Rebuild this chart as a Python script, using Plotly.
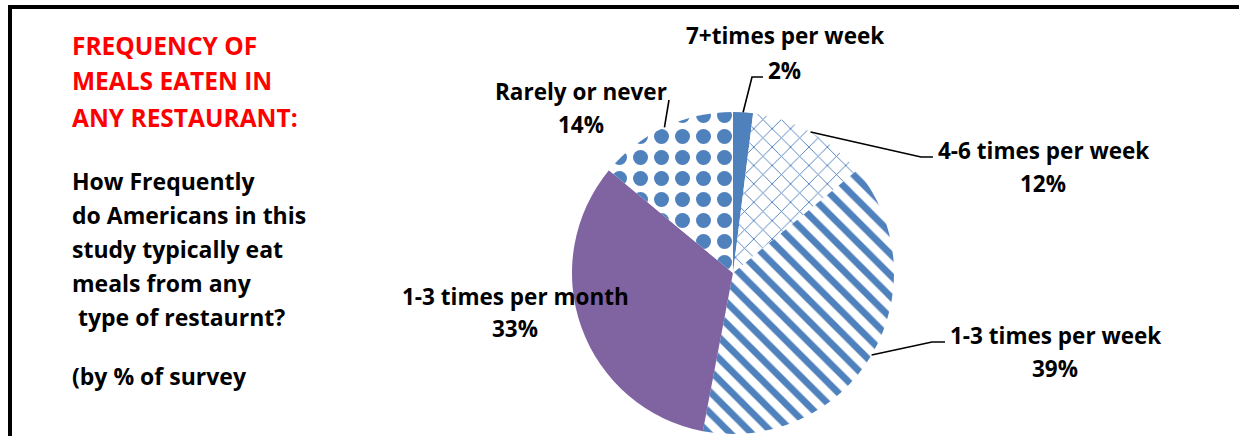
import math
import plotly.graph_objects as go

# ---- data ----
categories = ["7+times per week", "4-6 times per week", "1-3 times per week",
              "1-3 times per month", "Rarely or never"]
values = [2, 12, 39, 33, 14]

title_lines = ["FREQUENCY OF", "MEALS EATEN IN", "ANY RESTAURANT:"]
desc_lines = ["How Frequently", "do Americans in this", "study typically eat",
              "meals from any", " type of restaurnt?"]
note_line = "(by % of survey"

# ---- layout / style ----
W, H = 1239, 436
BLUE = "#4f81bd"
PURPLE = "#8064a2"
CX, CY, R = 733, 273, 161  # pie centre / radius in px
FONT = "Open Sans"
FS_LABEL = 22.5
FS_TITLE = 24.5
FS_DESC = 23

def px(x):
    return x / W

def py(y):
    return 1 - y / H

fill_colors = [BLUE, "white", "white", PURPLE, "white"]
pat_shape = ["", "x", "\\", "", "."]
pat_fg = [BLUE, BLUE, BLUE, PURPLE, BLUE]
pat_bg = [BLUE, "white", "white", PURPLE, "white"]
pat_size = [10, 13, 15, 10, 21]
pat_sol = [0.3, 0.14, 0.45, 0.3, 0.4]

# label placement: (label centre x, label centre y, pct centre y, elbow, end)
label_pos = [
    (785, 36, 70, (752, 77), (763, 77)),
    (1043, 150, 183, (921, 157), (933, 157)),
    (1055, 335, 368, (932, 342), (945, 342)),
    (515, 296, 328, None, None),
    (581, 91, 124, (669, 100), (669, 100)),
]

fig = go.Figure(go.Pie(
    labels=categories, values=values, sort=False, direction="clockwise",
    rotation=0, textinfo="none", hoverinfo="label+percent", showlegend=False,
    marker=dict(colors=fill_colors, line=dict(width=0),
                pattern=dict(shape=pat_shape, fgcolor=pat_fg, bgcolor=pat_bg,
                             size=pat_size, solidity=pat_sol)),
    domain=dict(x=[px(CX - R), px(CX + R)], y=[py(CY + R), py(CY - R)]),
))

annotations = []
shapes = []
total = sum(values)
cum = 0
for cat, v, pos in zip(categories, values, label_pos):
    mid = 2 * math.pi * (cum + v / 2) / total
    cum += v
    lx, ly, pyy, elbow, end = pos
    annotations.append(dict(x=px(lx), y=py(ly), xref="paper", yref="paper",
                            text=cat, showarrow=False, xanchor="center", yanchor="middle",
                            font=dict(family=FONT, size=FS_LABEL, color="black", weight="bold")))
    annotations.append(dict(x=px(lx), y=py(pyy), xref="paper", yref="paper",
                            text=f"{round(100 * v / total)}%", showarrow=False,
                            xanchor="center", yanchor="middle",
                            font=dict(family=FONT, size=FS_LABEL, color="black", weight="bold")))
    if elbow is not None:
        ax = CX + R * math.sin(mid)
        ay = CY - R * math.cos(mid)
        path = (f"M {px(ax)},{py(ay)} L {px(elbow[0])},{py(elbow[1])} "
                f"L {px(end[0])},{py(end[1])}")
        shapes.append(dict(type="path", path=path, xref="paper", yref="paper",
                           line=dict(color="black", width=1.6)))

for i, t in enumerate(title_lines):
    annotations.append(dict(x=px(70), y=py(45 + i * 36), xref="paper", yref="paper",
                            text=t, showarrow=False, xanchor="left", yanchor="middle",
                            font=dict(family=FONT, size=FS_TITLE, color="#ff0000", weight="bold")))
for i, t in enumerate(desc_lines):
    annotations.append(dict(x=px(70), y=py(181 + i * 34), xref="paper", yref="paper",
                            text=t.replace(" ", "&nbsp;", 1) if t.startswith(" ") else t,
                            showarrow=False, xanchor="left", yanchor="middle",
                            font=dict(family=FONT, size=FS_DESC, color="black", weight="bold")))
annotations.append(dict(x=px(70), y=py(376), xref="paper", yref="paper",
                        text=note_line, showarrow=False, xanchor="left", yanchor="middle",
                        font=dict(family=FONT, size=FS_DESC, color="black", weight="bold")))

# frame (top and left edges)
shapes.append(dict(type="path", xref="paper", yref="paper",
                   path=f"M {px(10)},{py(H + 5)} L {px(10)},{py(7)} L {px(W + 5)},{py(7)}",
                   line=dict(color="black", width=4)))

fig.update_layout(width=W, height=H, margin=dict(l=0, r=0, t=0, b=0),
                  paper_bgcolor="white", plot_bgcolor="white",
                  annotations=annotations, shapes=shapes)

fig.write_html("out.html")
